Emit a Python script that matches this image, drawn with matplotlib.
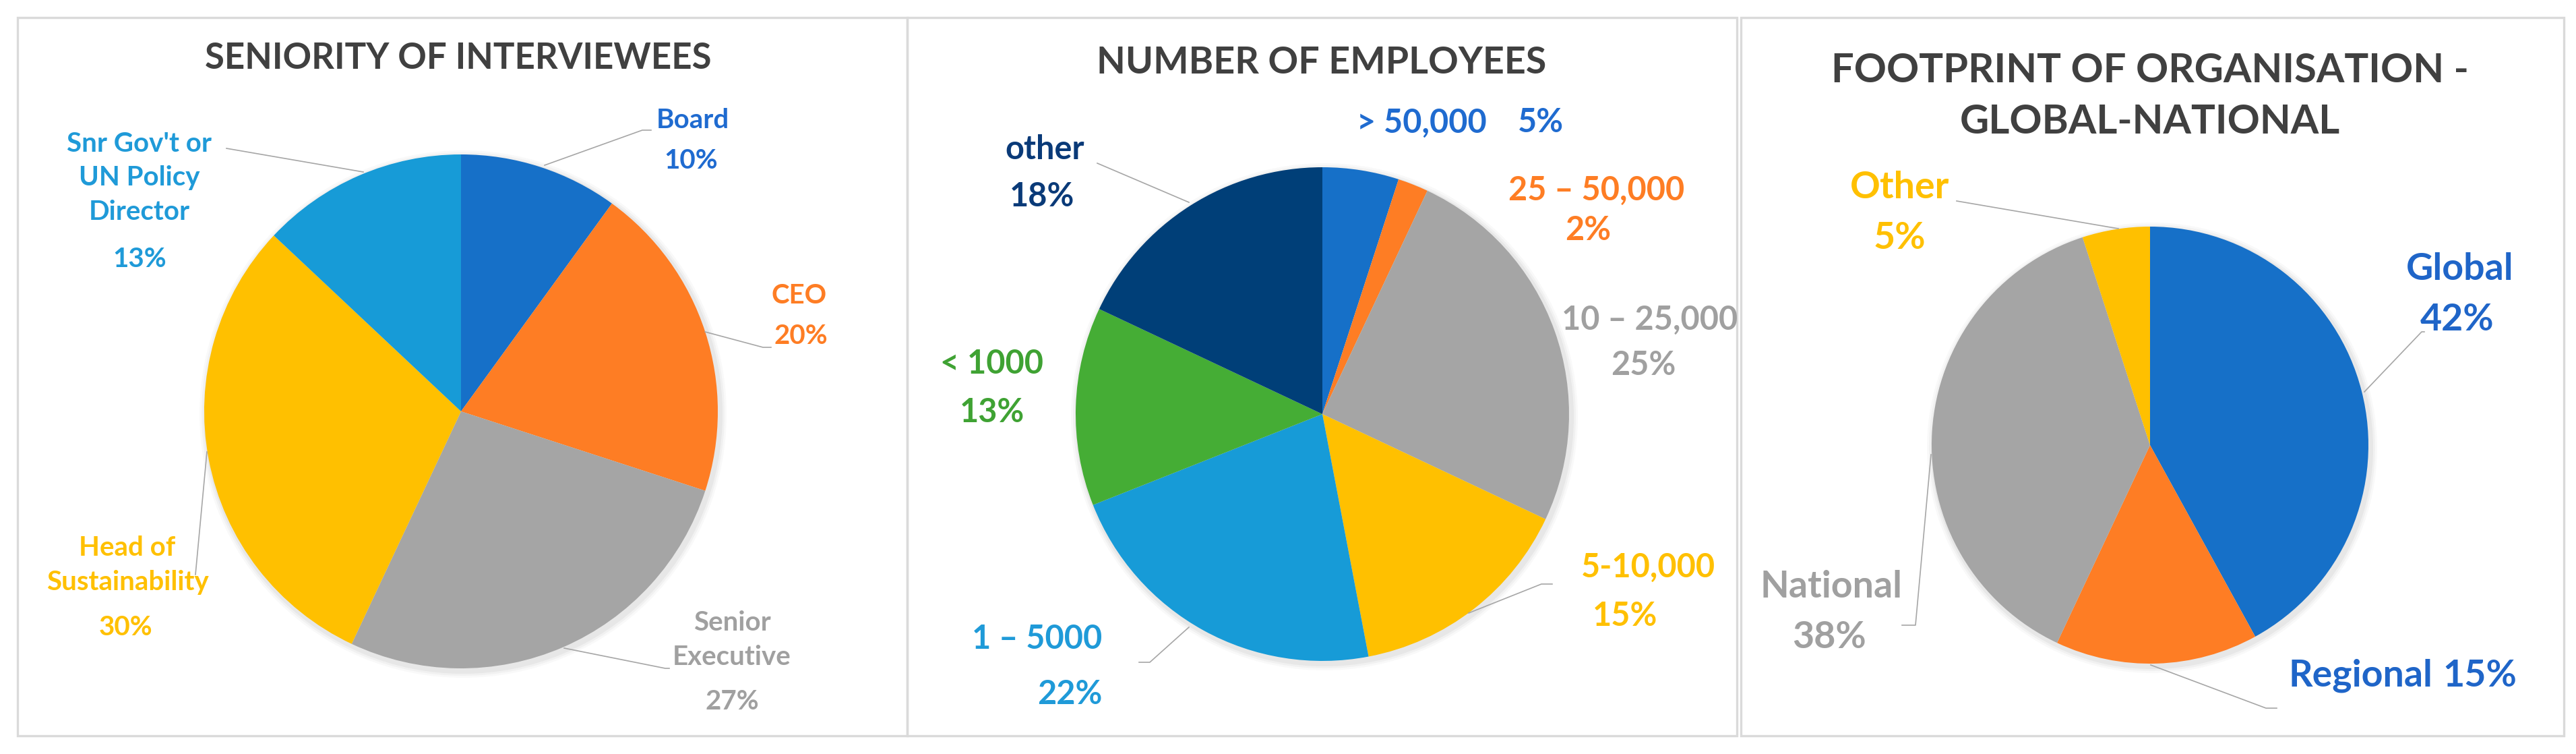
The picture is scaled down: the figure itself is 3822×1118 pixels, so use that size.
import matplotlib.pyplot as plt
from matplotlib.patches import Rectangle, Circle

plt.rcParams['font.family'] = ['Lato', 'DejaVu Sans']

W, H = 3823, 1118

### Data ###
sen_names = ['Board', 'CEO', 'Senior\nExecutive', 'Head of\nSustainability', "Snr Gov't or\nUN Policy\nDirector"]
sen_vals = [10, 20, 27, 30, 13]
sen_cols = ['#1670C8', '#FE7D24', '#A5A5A5', '#FFC000', '#179BD7']
sen_txt = ['#1F6BD0', '#FE7D24', '#A0A0A0', '#FFC000', '#1F9AD8']

emp_names = ['> 50,000', '25 \u2013 50,000', '10 \u2013 25,000', '5-10,000', '1 \u2013 5000', '< 1000', 'other']
emp_vals = [5, 2, 25, 15, 22, 13, 18]
emp_cols = ['#1670C8', '#FE7D24', '#A5A5A5', '#FFC000', '#179BD7', '#45AD35', '#003F78']
emp_txt = ['#1F6BD0', '#FE7D24', '#A0A0A0', '#FFC000', '#1F9AD8', '#3FA233', '#0A3A78']

fp_names = ['Global', 'Regional', 'National', 'Other']
fp_vals = [42, 15, 38, 5]
fp_cols = ['#1670C8', '#FE7D24', '#A5A5A5', '#FFC000']
fp_txt = ['#1F65C8', '#1F65C8', '#A0A0A0', '#FFC000']

### Layout (image pixels, y down) ###
panels = [(26, 26, 1346, 1091), (1346, 26, 2577, 1091), (2583, 26, 3804, 1091)]
titles = [('SENIORITY OF INTERVIEWEES', 680, 86, 38),
          ('NUMBER OF EMPLOYEES', 1961, 93, 40),
          ('FOOTPRINT OF ORGANISATION -\nGLOBAL-NATIONAL', 3190, 143, 43)]
pies = [(684, 610, 381), (1962, 614, 366), (3190, 660, 324)]
label_size = [29, 35, 40]

sen_pos = [((1028, 178), (1025, 239)), ((1186, 439), (1188, 499)), ((1086, 949), (1086, 1041)),
           ((189, 838), (187, 930)), ((207, 264), (207, 385))]
emp_pos = [((2109, 182), (2286, 182)), ((2369, 282), (2356, 342)), ((2448, 474), (2438, 542)),
           ((2445, 841), (2411, 914)), ((1539, 948), (1587, 1030)), ((1472, 540), (1472, 611)),
           ((1550, 221), (1546, 292))]
fp_pos = [((3650, 399), (3646, 474)), ((3502, 1002), (3679, 1002)),
          ((2717, 870), (2714, 945)), ((2819, 278), (2818, 353))]

leaders = [[(808, 245), (953, 193), (966, 193)],
           [(1046, 492), (1132, 515), (1144, 515)],
           [(837, 961), (987, 991), (993, 991)],
           [(307, 670), (290, 852)],
           [(336, 220), (539, 255)],
           [(1628, 242), (1764, 300)],
           [(2179, 909), (2287, 866), (2303, 866)],
           [(1764, 930), (1706, 982), (1690, 982)],
           [(3508, 581), (3593, 492), (3597, 492)],
           [(3191, 986), (3362, 1050), (3378, 1050)],
           [(2865, 674), (2842, 927), (2822, 927)],
           [(2903, 298), (3143, 339)]]


def iy(y):
    return H - y


fig = plt.figure(figsize=(W / 100, H / 100), dpi=100)
ax = fig.add_axes([0, 0, 1, 1])

# panel frames
for x0, y0, x1, y1 in panels:
    ax.add_patch(Rectangle((x0, iy(y1)), x1 - x0, y1 - y0, fill=False,
                           edgecolor='#DADADA', lw=2.4))

# titles
for t, x, y, fs in titles:
    ax.text(x, iy(y), t, ha='center', va='center', fontsize=fs, fontweight='bold',
            color='#404040', linespacing=1.5)

# pies with a soft shadow
sets = [(sen_vals, sen_cols), (emp_vals, emp_cols), (fp_vals, fp_cols)]
for (vals, cols), (cx, cy, r) in zip(sets, pies):
    for k, a in [(10, 0.05), (7, 0.07), (4, 0.10)]:
        ax.add_patch(Circle((cx + 3, iy(cy) - 4), r + k, color='#909090', alpha=a, lw=0))
    ax.pie(vals, colors=cols, startangle=90, counterclock=False, radius=r,
           center=(cx, iy(cy)), frame=True, wedgeprops=dict(lw=0))
ax.set_xlim(0, W)
ax.set_ylim(0, H)
ax.set_aspect('equal')
ax.axis('off')

# leader lines
for pts in leaders:
    ax.plot([p[0] for p in pts], [iy(p[1]) for p in pts], color='#A6A6A6', lw=1.2)

# labels
groups = [(sen_names, sen_vals, sen_txt, sen_pos),
          (emp_names, emp_vals, emp_txt, emp_pos),
          (fp_names, fp_vals, fp_txt, fp_pos)]
for (names, vals, tcols, pos), fs in zip(groups, label_size):
    for n, v, c, (npos, ppos) in zip(names, vals, tcols, pos):
        ax.text(npos[0], iy(npos[1]), n, ha='center', va='center', fontsize=fs,
                fontweight='bold', color=c, linespacing=1.45)
        ax.text(ppos[0], iy(ppos[1]), f'{v}%', ha='center', va='center', fontsize=fs,
                fontweight='bold', color=c)

fig.savefig('out.png', dpi=100, facecolor='white')
